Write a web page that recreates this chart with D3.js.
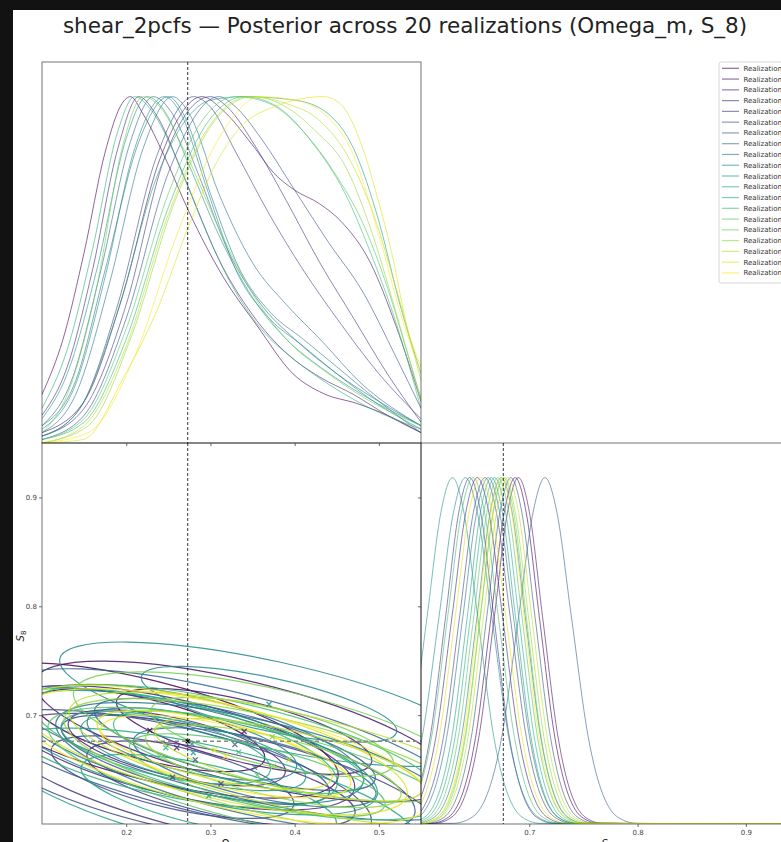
<!DOCTYPE html>
<html lang="en">
<head>
<meta charset="UTF-8">
<title>shear_2pcfs posterior</title>
<script src="https://cdn.jsdelivr.net/npm/d3@7"></script>
<style>
  body { margin: 0; background: #121212; }
  svg { display: block; font-family: "DejaVu Sans", sans-serif; }
  .tick text { font-size: 7px; fill: #444; }
  .tick line { stroke: #444; }
</style>
</head>
<body>
<svg id="chart" width="781" height="842"></svg>
<script>
// ---- data ----
var omTrue = 0.273, s8True = 0.676;
var omTicks = [0.2, 0.3, 0.4, 0.5];
var s8Ticks = [0.7, 0.8, 0.9];
var contourLevels = [2.30, 6.18];   // 68% and 95% (chi2, 2 dof)

// Omega_m marginals, [Omega_m, density] knots, peak normalised to 1
var omCurves = [
  [[0.1,0.14],[0.125,0.3],[0.15,0.55],[0.175,0.84],[0.195,0.98],[0.205,1.0],[0.22,0.95],[0.245,0.83],[0.274,0.67],[0.315,0.48],[0.355,0.34],[0.398,0.2],[0.434,0.143],[0.474,0.114],[0.51,0.08],[0.55,0.03]],
  [[0.1,0.03],[0.15,0.12],[0.195,0.42],[0.24,0.82],[0.29,1.0],[0.315,0.96],[0.35,0.86],[0.375,0.78],[0.40,0.73],[0.43,0.69],[0.455,0.64],[0.49,0.52],[0.52,0.34],[0.55,0.12]],
  [[0.1,0.08],[0.13,0.22],[0.16,0.5],[0.19,0.85],[0.215,1.0],[0.235,0.95],[0.27,0.76],[0.31,0.53],[0.35,0.37],[0.39,0.26],[0.43,0.19],[0.47,0.14],[0.51,0.08],[0.55,0.03]],
  [[0.1,0.02],[0.15,0.1],[0.2,0.4],[0.245,0.82],[0.3,1.0],[0.32,0.97],[0.355,0.85],[0.39,0.7],[0.43,0.52],[0.47,0.36],[0.51,0.2],[0.55,0.06]],
  [[0.1,0.02],[0.145,0.1],[0.19,0.4],[0.235,0.82],[0.28,1.0],[0.3,0.97],[0.33,0.84],[0.37,0.66],[0.41,0.5],[0.45,0.36],[0.5,0.2],[0.55,0.07]],
  [[0.1,0.01],[0.15,0.08],[0.2,0.36],[0.25,0.78],[0.31,1.0],[0.33,0.97],[0.36,0.88],[0.40,0.73],[0.44,0.58],[0.48,0.44],[0.52,0.25],[0.55,0.1]],
  [[0.1,0.05],[0.135,0.18],[0.17,0.5],[0.205,0.87],[0.232,1.0],[0.255,0.95],[0.285,0.78],[0.32,0.56],[0.36,0.4],[0.40,0.3],[0.45,0.2],[0.5,0.12],[0.55,0.05]],
  [[0.1,0.03],[0.14,0.14],[0.18,0.46],[0.22,0.85],[0.255,1.0],[0.275,0.95],[0.31,0.72],[0.35,0.52],[0.39,0.4],[0.43,0.3],[0.48,0.17],[0.55,0.05]],
  [[0.1,0.05],[0.14,0.18],[0.175,0.5],[0.215,0.87],[0.25,1.0],[0.27,0.94],[0.3,0.72],[0.335,0.5],[0.37,0.38],[0.41,0.3],[0.45,0.22],[0.5,0.12],[0.55,0.03]],
  [[0.1,0.04],[0.14,0.17],[0.175,0.48],[0.21,0.85],[0.245,1.0],[0.265,0.95],[0.295,0.74],[0.33,0.5],[0.37,0.36],[0.41,0.28],[0.45,0.2],[0.5,0.11],[0.55,0.04]],
  [[0.1,0.07],[0.13,0.2],[0.165,0.5],[0.2,0.88],[0.225,1.0],[0.245,0.96],[0.275,0.8],[0.31,0.6],[0.35,0.42],[0.39,0.3],[0.43,0.22],[0.48,0.14],[0.55,0.05]],
  [[0.1,0.02],[0.145,0.1],[0.19,0.38],[0.235,0.76],[0.27,0.93],[0.3,0.99],[0.34,1.0],[0.40,0.99],[0.44,0.95],[0.47,0.85],[0.5,0.64],[0.525,0.4],[0.55,0.2]],
  [[0.1,0.1],[0.13,0.27],[0.16,0.56],[0.19,0.9],[0.21,1.0],[0.23,0.96],[0.26,0.82],[0.29,0.64],[0.32,0.48],[0.36,0.33],[0.40,0.24],[0.44,0.17],[0.49,0.1],[0.55,0.04]],
  [[0.1,0.01],[0.15,0.06],[0.2,0.3],[0.25,0.68],[0.295,0.92],[0.34,1.0],[0.38,0.97],[0.42,0.87],[0.46,0.72],[0.49,0.55],[0.52,0.35],[0.55,0.1]],
  [[0.1,0.01],[0.15,0.07],[0.2,0.33],[0.25,0.72],[0.29,0.93],[0.33,1.0],[0.37,0.98],[0.41,0.9],[0.45,0.77],[0.48,0.64],[0.51,0.45],[0.535,0.25],[0.55,0.13]],
  [[0.1,0.03],[0.13,0.14],[0.165,0.45],[0.195,0.85],[0.22,1.0],[0.24,0.97],[0.27,0.84],[0.31,0.62],[0.35,0.43],[0.39,0.3],[0.44,0.2],[0.49,0.12],[0.55,0.05]],
  [[0.1,0.0],[0.155,0.05],[0.205,0.3],[0.255,0.68],[0.305,0.93],[0.35,1.0],[0.39,0.97],[0.425,0.9],[0.46,0.8],[0.49,0.62],[0.52,0.38],[0.55,0.12]],
  [[0.1,0.0],[0.15,0.05],[0.2,0.28],[0.25,0.66],[0.3,0.92],[0.345,1.0],[0.39,0.98],[0.43,0.93],[0.465,0.82],[0.495,0.65],[0.52,0.45],[0.55,0.18]],
  [[0.1,0.0],[0.149,0.01],[0.197,0.19],[0.236,0.38],[0.274,0.625],[0.303,0.79],[0.335,0.91],[0.375,0.97],[0.434,1.0],[0.454,0.98],[0.478,0.87],[0.497,0.72],[0.517,0.53],[0.533,0.34],[0.55,0.22]],
  [[0.1,0.0],[0.155,0.03],[0.21,0.25],[0.26,0.6],[0.31,0.88],[0.36,1.0],[0.40,0.99],[0.435,0.95],[0.47,0.83],[0.5,0.6],[0.525,0.38],[0.55,0.2]]
];

// S_8 marginals: S_8 positions where each curve reaches these density levels
var s8Levels = [0, 0.002, 0.02, 0.25, 0.6, 0.9, 1, 0.9, 0.6, 0.25, 0.02, 0.002, 0];
var s8Curves = [
  [0.55,0.6094,0.6255,0.6504,0.6648,0.6769,0.687,0.6971,0.7092,0.7236,0.7485,0.7646,0.95],
  [0.55,0.6124,0.6285,0.6534,0.6678,0.6799,0.690,0.7001,0.7122,0.7266,0.7515,0.7676,0.95],
  [0.55,0.5709,0.5877,0.6137,0.6287,0.6414,0.652,0.6626,0.6753,0.6903,0.7163,0.7331,0.95],
  [0.55,0.5674,0.5835,0.6084,0.6228,0.6349,0.645,0.6551,0.6672,0.6816,0.7065,0.7226,0.95],
  [0.55,0.5779,0.5947,0.6207,0.6357,0.6484,0.659,0.6696,0.6823,0.6973,0.7233,0.7401,0.95],
  [0.55,0.6054,0.6215,0.6464,0.6608,0.6729,0.683,0.6931,0.7052,0.7196,0.7445,0.7606,0.95],
  [0.55,0.6299,0.6474,0.6745,0.6902,0.7035,0.7145,0.7255,0.7388,0.7545,0.7816,0.7991,0.95],
  [0.55,0.5809,0.5977,0.6237,0.6387,0.6514,0.662,0.6726,0.6853,0.7003,0.7263,0.7431,0.95],
  [0.55,0.5964,0.6125,0.6374,0.6518,0.6639,0.674,0.6841,0.6962,0.7106,0.7355,0.7516,0.95],
  [0.55,0.5564,0.5739,0.6010,0.6167,0.6300,0.641,0.6520,0.6653,0.6810,0.7081,0.7256,0.95],
  [0.5,0.5479,0.5647,0.5907,0.6057,0.6184,0.629,0.6396,0.6523,0.6673,0.6933,0.7101,0.95],
  [0.55,0.5874,0.6035,0.6284,0.6428,0.6549,0.665,0.6751,0.6872,0.7016,0.7265,0.7426,0.95],
  [0.55,0.5904,0.6065,0.6314,0.6458,0.6579,0.668,0.6781,0.6902,0.7046,0.7295,0.7456,0.95],
  [0.55,0.5669,0.5837,0.6097,0.6247,0.6374,0.648,0.6586,0.6713,0.6863,0.7123,0.7291,0.95],
  [0.55,0.5934,0.6095,0.6344,0.6488,0.6609,0.671,0.6811,0.6932,0.7076,0.7325,0.7486,0.95],
  [0.55,0.6020,0.6173,0.6410,0.6548,0.6664,0.676,0.6856,0.6972,0.7110,0.7347,0.7500,0.95],
  [0.55,0.5994,0.6155,0.6404,0.6548,0.6669,0.677,0.6871,0.6992,0.7136,0.7385,0.7546,0.95],
  [0.55,0.6024,0.6185,0.6434,0.6578,0.6699,0.680,0.6901,0.7022,0.7166,0.7415,0.7576,0.95],
  [0.55,0.5739,0.5907,0.6167,0.6317,0.6444,0.655,0.6656,0.6783,0.6933,0.7193,0.7361,0.95],
  [0.55,0.6000,0.6153,0.6390,0.6528,0.6644,0.674,0.6836,0.6952,0.7090,0.7327,0.7480,0.95]
];

// 2D posterior summaries per realization
var meanOm = [0.228, 0.340, 0.260, 0.3125, 0.255, 0.282, 0.329, 0.3525, 0.278, 0.3695, 0.2796, 0.298, 0.247, 0.3335, 0.3556, 0.3734, 0.3746, 0.393, 0.305, 0.318];
var meanS8 = [0.686, 0.685, 0.670, 0.637, 0.643, 0.659, 0.673, 0.652, 0.6735, 0.710, 0.6655, 0.626, 0.670, 0.666, 0.645, 0.680, 0.653, 0.659, 0.668, 0.662];
var sigOm  = [0.090, 0.100, 0.085, 0.105, 0.095, 0.105, 0.110, 0.095, 0.082, 0.100, 0.088, 0.100, 0.082, 0.098, 0.100, 0.095, 0.100, 0.105, 0.092, 0.098];
var sigS8  = [0.025, 0.026, 0.023, 0.026, 0.025, 0.027, 0.028, 0.024, 0.022, 0.023, 0.023, 0.025, 0.022, 0.025, 0.025, 0.024, 0.025, 0.025, 0.024, 0.025];
var rho    = [-0.66, -0.68, -0.62, -0.66, -0.64, -0.70, -0.72, -0.66, -0.60, -0.70, -0.64, -0.66, -0.58, -0.68, -0.70, -0.66, -0.68, -0.70, -0.66, -0.64];

var n = omCurves.length;
var color = function(i) { return d3.interpolateViridis(i / (n - 1)); };

// ---- layout ----
var svg = d3.select("#chart");
svg.append("rect").attr("x", 13).attr("y", 10).attr("width", 790).attr("height", 840).attr("fill", "#fff");

var xOm  = d3.scaleLinear().domain([0.1, 0.55]).range([42, 421]);
var yDA  = d3.scaleLinear().domain([0, 1.1]).range([443, 62]);
var yS8  = d3.scaleLinear().domain([0.6, 0.95]).range([824, 443]);
var xS8  = d3.scaleLinear().domain([0.6, 0.95]).range([421, 800]);
var yDC  = d3.scaleLinear().domain([0, 1.1]).range([824, 443]);

var panels = {
  A: {x: 42, y: 62, w: 379, h: 381},
  B: {x: 42, y: 443, w: 379, h: 381},
  C: {x: 421, y: 443, w: 379, h: 381}
};
var defs = svg.append("defs");
Object.keys(panels).forEach(function(k) {
  var p = panels[k];
  defs.append("clipPath").attr("id", "clip" + k)
    .append("rect").attr("x", p.x).attr("y", p.y).attr("width", p.w).attr("height", p.h);
});

svg.append("text")
  .attr("x", 405).attr("y", 33)
  .attr("text-anchor", "middle")
  .style("font-size", "21.5px").style("fill", "#222")
  .text("shear_2pcfs \u2014 Posterior across 20 realizations (Omega_m, S_8)");

// ---- panel A: Omega_m marginals ----
var gA = svg.append("g").attr("clip-path", "url(#clipA)");
var lineA = d3.line().x(function(d) { return xOm(d[0]); }).y(function(d) { return yDA(d[1]); }).curve(d3.curveMonotoneX);
omCurves.forEach(function(c, i) {
  gA.append("path").attr("d", lineA(c))
    .attr("fill", "none").attr("stroke", color(i)).attr("stroke-width", 1).attr("stroke-opacity", 0.6);
});
gA.append("line").attr("x1", xOm(omTrue)).attr("x2", xOm(omTrue)).attr("y1", 62).attr("y2", 443)
  .attr("stroke", "#222").attr("stroke-width", 0.9).attr("stroke-dasharray", "3,2");

// ---- panel B: 2D contours ----
var gB = svg.append("g").attr("clip-path", "url(#clipB)");
var kx = xOm(1) - xOm(0), ky = yS8(0) - yS8(1);
for (var i = 0; i < n; i++) {
  var sx = sigOm[i] * kx, sy = sigS8[i] * ky;
  var a = sx * sx, c = sy * sy, b = -rho[i] * sx * sy;
  var mid = (a + c) / 2, dif = Math.sqrt((a - c) * (a - c) / 4 + b * b);
  var ang = 0.5 * Math.atan2(2 * b, a - c) * 180 / Math.PI;
  contourLevels.forEach(function(lev) {
    gB.append("ellipse")
      .attr("rx", Math.sqrt(lev * (mid + dif))).attr("ry", Math.sqrt(lev * (mid - dif)))
      .attr("transform", "translate(" + xOm(meanOm[i]) + "," + yS8(meanS8[i]) + ") rotate(" + ang + ")")
      .attr("fill", "none").attr("stroke", color(i)).attr("stroke-width", 1.2).attr("stroke-opacity", 0.85);
  });
}
gB.append("line").attr("x1", xOm(omTrue)).attr("x2", xOm(omTrue)).attr("y1", 443).attr("y2", 824)
  .attr("stroke", "#222").attr("stroke-width", 0.9).attr("stroke-dasharray", "3,2");
gB.append("line").attr("x1", 42).attr("x2", 421).attr("y1", yS8(s8True)).attr("y2", yS8(s8True))
  .attr("stroke", "#888").attr("stroke-width", 1.6).attr("stroke-dasharray", "4,3");
var xMark = "M-2.5,-2.5L2.5,2.5M-2.5,2.5L2.5,-2.5";
for (var j = 0; j < n; j++) {
  gB.append("path").attr("d", xMark)
    .attr("transform", "translate(" + xOm(meanOm[j]) + "," + yS8(meanS8[j]) + ")")
    .attr("stroke", color(j)).attr("stroke-width", 1.3).attr("stroke-opacity", 0.8).attr("fill", "none");
}
gB.append("path").attr("d", "M-2,-2L2,2M-2,2L2,-2")
  .attr("transform", "translate(" + xOm(omTrue) + "," + yS8(s8True) + ")")
  .attr("stroke", "#000").attr("stroke-width", 1.2);

// ---- panel C: S_8 marginals ----
var gC = svg.append("g").attr("clip-path", "url(#clipC)");
var lineC = d3.line().x(function(d) { return xS8(d[0]); }).y(function(d) { return yDC(d[1]); }).curve(d3.curveMonotoneX);
s8Curves.forEach(function(pos, i) {
  var pts = pos.map(function(v, k) { return [v, s8Levels[k]]; });
  gC.append("path").attr("d", lineC(pts))
    .attr("fill", "none").attr("stroke", color(i)).attr("stroke-width", 1).attr("stroke-opacity", 0.6);
});
gC.append("line").attr("x1", xS8(s8True)).attr("x2", xS8(s8True)).attr("y1", 443).attr("y2", 824)
  .attr("stroke", "#222").attr("stroke-width", 0.9).attr("stroke-dasharray", "3,2");

// ---- spines ----
Object.keys(panels).forEach(function(k) {
  var p = panels[k];
  svg.append("rect").attr("x", p.x).attr("y", p.y).attr("width", p.w).attr("height", p.h)
    .attr("fill", "none").attr("stroke", "#000").attr("stroke-opacity", 0.55).attr("stroke-width", 1);
});

// ---- axes ----
var fmt = d3.format(".1f");
function styleAxis(g) { g.select(".domain").remove(); g.selectAll(".tick line").attr("stroke-width", 0.8); }

svg.append("g").attr("transform", "translate(0,443)")
  .call(d3.axisBottom(xOm).tickValues(omTicks).tickSize(3).tickFormat(""))
  .call(styleAxis);
svg.append("g").attr("transform", "translate(0,824)")
  .call(d3.axisBottom(xOm).tickValues(omTicks).tickSize(3).tickPadding(3).tickFormat(fmt))
  .call(styleAxis);
svg.append("g").attr("transform", "translate(42,0)")
  .call(d3.axisLeft(yS8).tickValues(s8Ticks).tickSize(3).tickPadding(2).tickFormat(fmt))
  .call(styleAxis);
svg.append("g").attr("transform", "translate(421,0)")
  .call(d3.axisLeft(yS8).tickValues(s8Ticks).tickSize(3).tickFormat(""))
  .call(styleAxis);
svg.append("g").attr("transform", "translate(0,824)")
  .call(d3.axisBottom(xS8).tickValues(s8Ticks).tickSize(3).tickPadding(3).tickFormat(fmt))
  .call(styleAxis);
svg.selectAll(".tick text").style("font-family", "DejaVu Sans");

// axis labels (cut by the bottom edge, as in the source figure)
var lab1 = svg.append("text").attr("x", 229).attr("y", 847).attr("text-anchor", "middle")
  .style("font-size", "10px").style("fill", "#222");
lab1.append("tspan").text("\u03a9");
lab1.append("tspan").attr("dy", 2).style("font-size", "7px").text("m");
var lab2 = svg.append("text").attr("x", 607).attr("y", 847).attr("text-anchor", "middle")
  .style("font-size", "10px").style("fill", "#222").style("font-style", "italic");
lab2.append("tspan").text("S");
lab2.append("tspan").attr("dy", 2).style("font-size", "7px").style("font-style", "normal").text("8");
var lab3 = svg.append("text").attr("transform", "translate(24,636) rotate(-90)").attr("text-anchor", "middle")
  .style("font-size", "10px").style("fill", "#222").style("font-style", "italic");
lab3.append("tspan").text("S");
lab3.append("tspan").attr("dy", 2).style("font-size", "7px").style("font-style", "normal").text("8");

// ---- legend ----
var leg = svg.append("g").attr("transform", "translate(719,62)");
leg.append("rect").attr("width", 90).attr("height", 221).attr("rx", 2)
  .attr("fill", "#fff").attr("stroke", "#ccc").attr("stroke-width", 0.8);
for (var r = 0; r < n; r++) {
  var yy = 6.3 + r * 10.77;
  leg.append("line").attr("x1", 3).attr("x2", 20).attr("y1", yy).attr("y2", yy)
    .attr("stroke", color(r)).attr("stroke-width", 1.2).attr("stroke-opacity", 0.6);
  leg.append("text").attr("x", 24.5).attr("y", yy + 2.5)
    .style("font-size", "7px").style("fill", "#333").text("Realization " + (r + 1));
}
</script>
</body>
</html>
